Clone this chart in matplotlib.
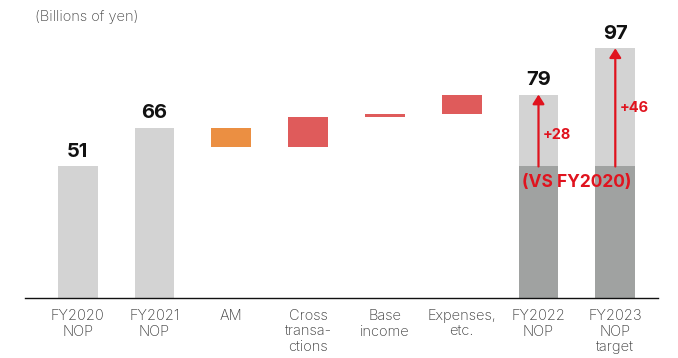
import matplotlib
matplotlib.use("Agg")
import matplotlib.pyplot as plt

plt.rcParams['font.family'] = ['Inter', 'DejaVu Sans']

categories = ["FY2020\nNOP", "FY2021\nNOP", "AM", "Cross\ntransa-\nctions",
              "Base\nincome", "Expenses,\netc.", "FY2022\nNOP", "FY2023\nNOP\ntarget"]
totals = {0: 51, 1: 66, 6: 79, 7: 97}
deltas = {2: -7.3, 3: 11.7, 4: 1.0, 5: 7.6}
base_fy2020 = 51
increase_labels = {6: "+28", 7: "+46"}

light_gray = "#d3d3d3"
dark_gray = "#a0a2a1"
orange = "#eb8f42"
red_bar = "#df5b5b"
red_txt = "#e0131e"

W, H = 678, 358
fig = plt.figure(figsize=(W / 100, H / 100), dpi=100)
px_per_unit = 2.569
base_px = 297.5
ax = fig.add_axes([25 / W, (H - base_px) / H, (658 - 25) / W, base_px / H])
ax.set_xlim(-0.686, 7.556)
ax.set_ylim(0, base_px / px_per_unit)

bw = 0.52
running = 66
for i in range(len(categories)):
    if i in totals:
        v = totals[i]
        if i >= 6:
            ax.bar(i, v, width=bw, color=light_gray, zorder=1)
            ax.bar(i, base_fy2020, width=bw, color=dark_gray, zorder=2)
            ax.annotate("", xy=(i, v), xytext=(i, base_fy2020),
                        arrowprops=dict(arrowstyle="-|>,head_width=0.35,head_length=0.55",
                                        color=red_txt, lw=1.6, shrinkA=0, shrinkB=0),
                        zorder=4)
        else:
            ax.bar(i, v, width=bw, color=light_gray, zorder=1)
        ax.text(i, v + 2.2, str(v), ha="center", va="bottom", fontsize=14.5,
                fontweight="bold", color="#111111")
    else:
        d = deltas[i]
        new = running + d
        lo, hi = min(running, new), max(running, new)
        ax.bar(i, hi - lo, bottom=lo, width=bw,
               color=orange if d < 0 else red_bar, zorder=1)
        running = new

for i, lab in increase_labels.items():
    mid = (totals[i] + base_fy2020) / 2 + (-1.8 if i == 6 else -0.2)
    ax.text(i + 0.06, mid, lab, ha="left", va="center", fontsize=10.5,
            fontweight="bold", color=red_txt)

ax.text(6.5, base_fy2020 - 6.4, "(VS FY2020)", ha="center", va="center",
        fontsize=12.5, fontweight="bold", color=red_txt, zorder=5)

ax.set_xticks(range(len(categories)))
ax.set_xticklabels(categories, fontsize=10.5, color="#3a3a3a", linespacing=1.12,
                   fontweight="light")
ax.tick_params(axis="x", length=0, pad=8.5)
ax.set_yticks([])
for s in ["top", "right", "left"]:
    ax.spines[s].set_visible(False)
ax.spines["bottom"].set_color("#111111")
ax.spines["bottom"].set_linewidth(1.0)

fig.text(35 / W, 1 - 17 / H, "(Billions of yen)", fontsize=10.5, color="#444444",
         va="center", ha="left", fontweight="light")

fig.savefig("out.png", dpi=100)
